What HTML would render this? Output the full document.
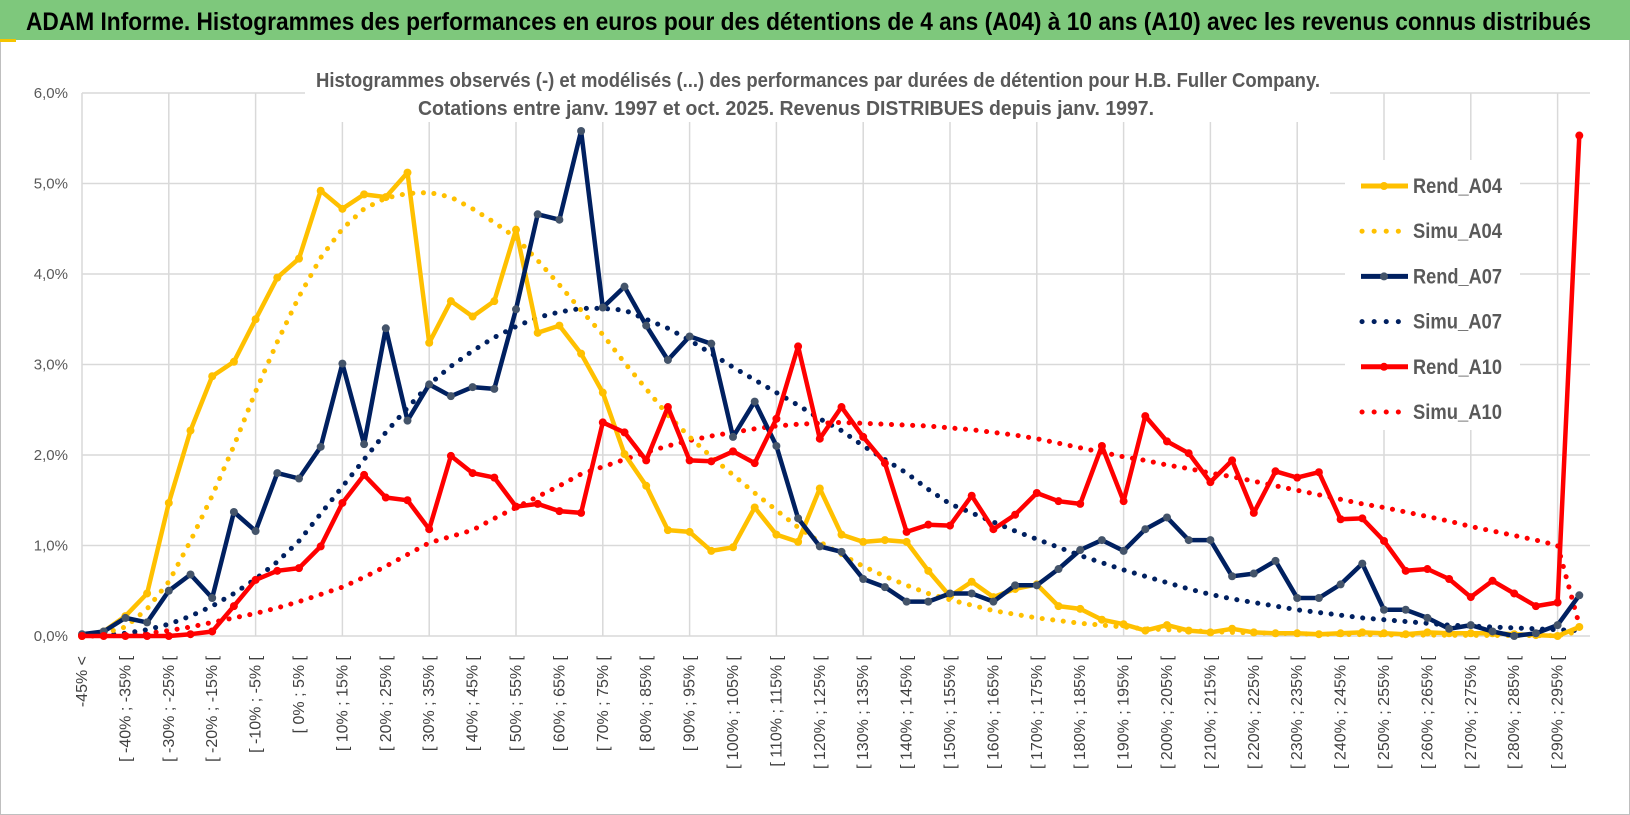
<!DOCTYPE html>
<html><head><meta charset="utf-8"><style>
html,body{margin:0;padding:0;background:#fff}
svg{display:block}
text{font-family:"Liberation Sans Narrow","Liberation Sans",sans-serif}
</style></head><body>
<svg id="chart" width="1630" height="815" viewBox="0 0 1630 815">
<rect x="0.5" y="0.5" width="1629" height="814" fill="#fff" stroke="#bfbfbf"/>
<rect x="0" y="0" width="1630" height="40" fill="#7ec87c"/>
<rect x="0" y="39" width="16" height="3" fill="#f5c400"/>
<text x="26" y="30" font-size="25" font-weight="bold" fill="#000" textLength="1565" lengthAdjust="spacingAndGlyphs">ADAM Informe. Histogrammes des performances en euros pour des détentions de 4 ans (A04) à 10 ans (A10) avec les revenus connus distribués</text>
<g id="grid"></g>
<rect x="305" y="62" width="1025" height="60" fill="#fff"/>
<text x="316" y="87" font-size="20" font-weight="bold" fill="#595959" textLength="1004" lengthAdjust="spacingAndGlyphs">Histogrammes observés (-) et modélisés (...) des performances par durées de détention pour H.B. Fuller Company.</text>
<text x="418" y="115" font-size="20" font-weight="bold" fill="#595959" textLength="736" lengthAdjust="spacingAndGlyphs">Cotations entre janv. 1997 et oct. 2025.  Revenus DISTRIBUES depuis janv. 1997.</text>
<g id="yaxis"></g>
<g id="xaxis"></g>
<g id="series"></g>
<g id="legend"></g>
</svg>
<script>
const yTicks = [0,1,2,3,4,5,6];
const rendA04 = [0,0.05,0.22,0.47,1.47,2.27,2.87,3.03,3.5,3.96,4.17,4.92,4.72,4.88,4.85,5.12,3.24,3.7,3.53,3.7,4.49,3.35,3.43,3.12,2.69,2.01,1.66,1.17,1.15,0.94,0.98,1.42,1.12,1.04,1.63,1.12,1.04,1.06,1.04,0.72,0.44,0.6,0.43,0.52,0.57,0.33,0.3,0.18,0.13,0.06,0.12,0.06,0.04,0.08,0.04,0.03,0.03,0.02,0.03,0.04,0.03,0.02,0.04,0.03,0.03,0.03,0.02,0.01,0.0,0.1];
const simuA04 = [0,0.03,0.1,0.3,0.6,1.05,1.55,2.1,2.7,3.25,3.75,4.18,4.5,4.72,4.84,4.89,4.9,4.85,4.72,4.57,4.4,4.15,3.88,3.6,3.33,3.02,2.73,2.44,2.2,1.98,1.78,1.58,1.39,1.2,1.04,0.9,0.77,0.66,0.56,0.47,0.4,0.34,0.28,0.24,0.2,0.17,0.14,0.12,0.1,0.08,0.07,0.06,0.05,0.04,0.035,0.03,0.025,0.02,0.018,0.015,0.012,0.01,0.01,0.008,0.007,0.006,0.005,0.004,0.003,0.05];
const rendA07 = [0.02,0.05,0.2,0.15,0.5,0.68,0.42,1.37,1.16,1.8,1.74,2.09,3.01,2.12,3.4,2.38,2.78,2.65,2.75,2.73,3.61,4.66,4.6,5.58,3.63,3.86,3.43,3.05,3.31,3.23,2.2,2.59,2.1,1.3,0.99,0.93,0.63,0.54,0.38,0.38,0.47,0.47,0.38,0.56,0.56,0.74,0.95,1.06,0.94,1.18,1.31,1.06,1.06,0.66,0.69,0.83,0.42,0.42,0.57,0.8,0.29,0.29,0.2,0.08,0.12,0.05,0.0,0.03,0.12,0.45];
const simuA07 = [0,0.01,0.03,0.07,0.13,0.22,0.33,0.47,0.63,0.82,1.05,1.35,1.65,1.95,2.25,2.52,2.78,2.98,3.15,3.3,3.42,3.52,3.58,3.62,3.62,3.6,3.5,3.4,3.27,3.12,2.97,2.83,2.69,2.55,2.4,2.27,2.1,1.95,1.8,1.62,1.46,1.36,1.26,1.16,1.07,0.98,0.89,0.81,0.73,0.66,0.59,0.52,0.46,0.41,0.37,0.33,0.29,0.26,0.23,0.2,0.18,0.16,0.14,0.12,0.11,0.1,0.09,0.08,0.07,0.06];
const rendA10 = [0,0,0,0,0,0.02,0.05,0.33,0.62,0.72,0.75,0.99,1.47,1.78,1.53,1.5,1.18,1.99,1.8,1.75,1.43,1.46,1.38,1.36,2.36,2.25,1.94,2.53,1.94,1.93,2.04,1.91,2.4,3.2,2.18,2.53,2.2,1.91,1.15,1.23,1.22,1.55,1.18,1.34,1.58,1.49,1.46,2.1,1.49,2.43,2.15,2.02,1.7,1.94,1.36,1.82,1.75,1.81,1.29,1.3,1.05,0.72,0.74,0.63,0.43,0.61,0.47,0.33,0.37,5.53];
const simuA10 = [0,0,0.01,0.03,0.06,0.1,0.15,0.2,0.25,0.31,0.38,0.46,0.54,0.65,0.77,0.9,1.03,1.1,1.17,1.3,1.42,1.54,1.66,1.79,1.87,1.95,2.03,2.1,2.16,2.21,2.25,2.29,2.32,2.34,2.35,2.36,2.35,2.34,2.33,2.32,2.3,2.28,2.25,2.22,2.18,2.13,2.08,2.03,1.98,1.94,1.89,1.85,1.8,1.76,1.71,1.66,1.61,1.56,1.51,1.46,1.42,1.37,1.32,1.27,1.21,1.16,1.11,1.06,1.0,0.12];
const seriesNames = ["Rend_A04","Simu_A04","Rend_A07","Simu_A07","Rend_A10","Simu_A10"];

const NS="http://www.w3.org/2000/svg";
const X0=82, STEP=21.7, Y0=636, PERPCT=90.5, XRIGHT=1590;
const nCat = rendA04.length;
function xAt(i){return X0+i*STEP;}
function yAt(v){return Y0-v*PERPCT;}
function mk(tag,attrs,parent){const e=document.createElementNS(NS,tag);for(const k in attrs)e.setAttribute(k,attrs[k]);parent.appendChild(e);return e;}
function catLabel(i){
  if(i===0) return "-45% <";
  if(i===nCat-1) return "> 295%";
  const a=-45+5*(i-1), b=a+5;
  return "[ "+a+"% ; "+b+"% [";
}
const grid=document.getElementById('grid');
yTicks.forEach(t=>{
  const l=mk('line',{x1:X0,x2:XRIGHT,y1:yAt(t),y2:yAt(t),stroke:'#d9d9d9','stroke-width':1.5},grid);
  
  
});
for(let i=0;i<nCat;i+=4){
  const l=mk('line',{x1:xAt(i),x2:xAt(i),y1:yAt(6),y2:Y0,stroke:'#d9d9d9','stroke-width':1.5},grid);
  
  
}
const ya=document.getElementById('yaxis');
yTicks.forEach(t=>{
  const tx=mk('text',{x:68,y:yAt(t)+5,'text-anchor':'end','font-size':15,fill:'#595959'},ya);
  tx.textContent=t.toFixed(1).replace('.',',')+'%';
  
  
});
const xa=document.getElementById('xaxis');
for(let i=0;i<nCat;i+=2){
  const x=xAt(i)+5, y=656;
  const tx=mk('text',{x:x,y:y,'text-anchor':'end','font-size':16,fill:'#404040',transform:`rotate(-90 ${x} ${y})`},xa);
  tx.textContent=catLabel(i);
  
  
}
const ser=document.getElementById('series');
function pts(arr){return arr.map((v,i)=>xAt(i).toFixed(1)+','+yAt(v).toFixed(1)).join(' ');}
function dotted(arr,color,name){
  const p=mk('polyline',{points:pts(arr),fill:'none',stroke:color,'stroke-width':5,'stroke-dasharray':'0.1 10.5','stroke-linecap':'round'},ser);
  
  
}
function solid(arr,color,mcol,name){
  const p=mk('polyline',{points:pts(arr),fill:'none',stroke:color,'stroke-width':4.5,'stroke-linejoin':'round'},ser);
  
  
  arr.forEach((v,i)=>{
    const c=mk('circle',{cx:xAt(i),cy:yAt(v),r:4,fill:mcol},ser);
    
    
  });
}
dotted(simuA10,'#ff0000','simu-a10-line');
dotted(simuA07,'#002060','simu-a07-line');
dotted(simuA04,'#ffc000','simu-a04-line');
solid(rendA04,'#ffc000','#ffc000','rend-a04-line');
solid(rendA07,'#002060','#44546a','rend-a07-line');
solid(rendA10,'#ff0000','#ff0000','rend-a10-line');

const lg=document.getElementById('legend');
mk('rect',{x:1345,y:160,width:175,height:270,fill:'#fff'},lg);
const lcolors=['#ffc000','#ffc000','#002060','#002060','#ff0000','#ff0000'];
seriesNames.forEach((n,k)=>{
  const y=186+k*45.2;
  if(k%2===0){
    const l=mk('line',{x1:1361,x2:1408,y1:y,y2:y,stroke:lcolors[k],'stroke-width':5},lg);
    
    
    const c=mk('circle',{cx:1384,cy:y,r:4,fill:k===2?'#44546a':lcolors[k]},lg);
    
    
  } else {
    const l=mk('line',{x1:1362,x2:1400,y1:y,y2:y,stroke:lcolors[k],'stroke-width':5,'stroke-dasharray':'0.1 12','stroke-linecap':'round'},lg);
    
    
  }
  const t=mk('text',{x:1413,y:y+7,'font-size':21,'font-weight':'bold',fill:'#595959',textLength:89,lengthAdjust:'spacingAndGlyphs'},lg);
  t.textContent=n;
  
  
});
</script>
</body></html>
